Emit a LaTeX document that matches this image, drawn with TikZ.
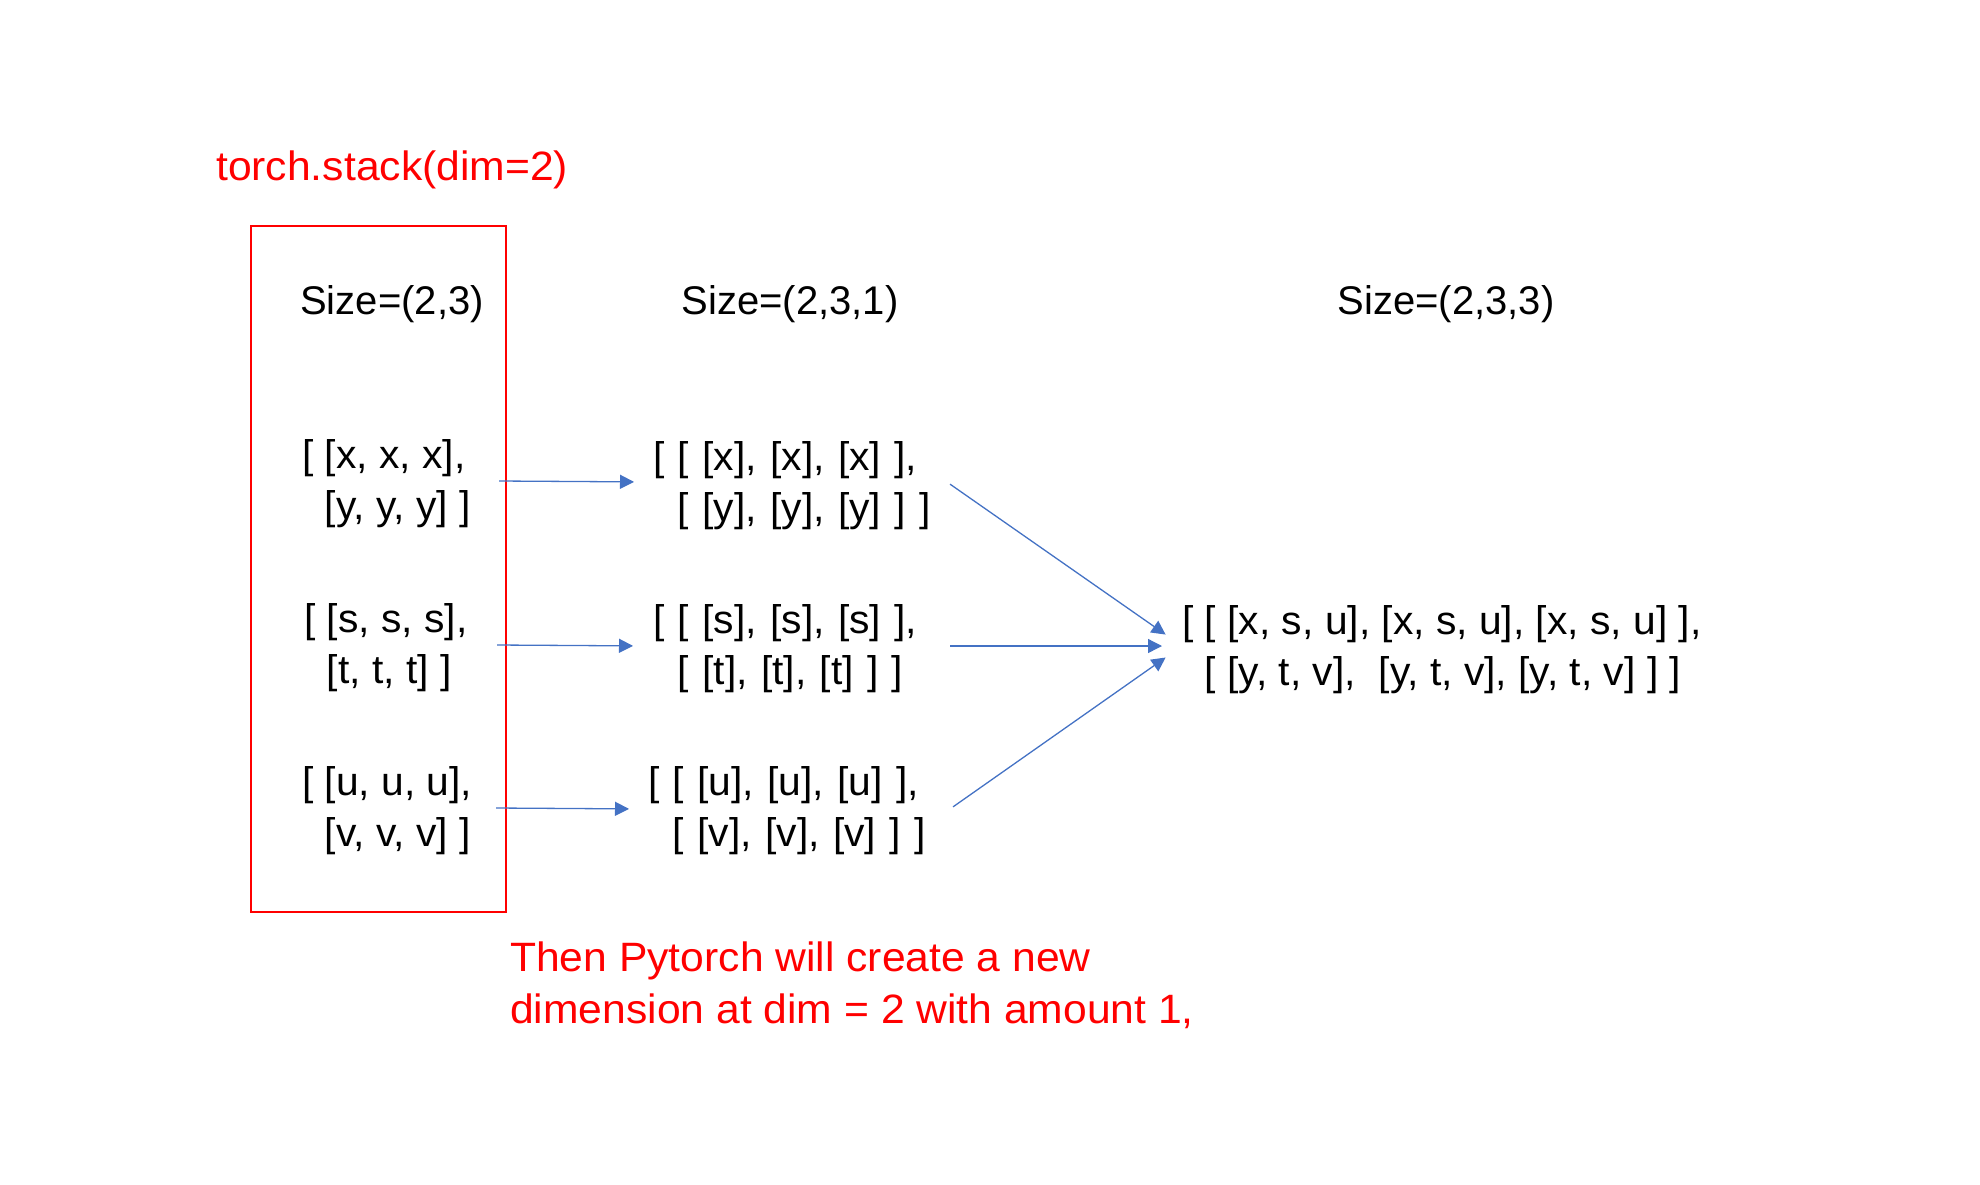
\documentclass[tikz,border=0pt]{standalone}
\usepackage{fontspec}
\setmainfont{Liberation Sans}
\newfontfamily\widefont[FakeStretch=1.02]{Liberation Sans}
\newfontfamily\notefont[FakeStretch=1.04]{Liberation Sans}
\usepackage{xcolor}
\usetikzlibrary{arrows.meta,positioning,calc}

\definecolor{flowblue}{HTML}{4472C4}
\definecolor{notered}{HTML}{FF0000}

\tikzset{
  mat/.style={anchor=west, inner sep=0pt, align=left, font=\widefont\fontsize{40}{51}\selectfont},
  sizelbl/.style={inner sep=0pt, font=\fontsize{40}{51}\selectfont},
  note/.style={anchor=west, inner sep=0pt, align=left, text=notered, font=\notefont\fontsize{41}{52}\selectfont},
  flow/.style={-{Triangle[length=14pt,width=14pt]}, line width=1.3pt, flowblue},
}

\begin{document}
\begin{tikzpicture}[x=1pt, y=-1pt]
\useasboundingbox (0,0) rectangle (1980,1184);

% Title and frame round the inputs
\node[note] (title) at (216,170) {torch.stack(dim=2)};
\node[draw=notered, line width=2pt, minimum width=255pt, minimum height=686pt, inner sep=0pt] (box) at (378.5,569) {};

% Size labels
\node[sizelbl] (s1) at (392,304) {Size=(2,3)};
\node[sizelbl] (s2) at (790,304) {Size=(2,3,1)};
\node[sizelbl] (s3) at (1446,304) {Size=(2,3,3)};

% Inputs, size (2,3)
\node[mat] (l1) at (302,484) {[ [x, x, x],\\\phantom{[ }[y, y, y] ]};
\node[mat] (l2) at (304,648) {[ [s, s, s],\\\phantom{[ }[t, t, t] ]};
\node[mat] (l3) at (302,811) {[ [u, u, u],\\\phantom{[ }[v, v, v] ]};

% After unsqueeze, size (2,3,1)
\node[mat, text width=295pt] (m1) at (653,486) {[ [ [x], [x], [x] ],\\\phantom{[ }[ [y], [y], [y] ] ]};
\node[mat, text width=295pt] (m2) at (653,649) {[ [ [s], [s], [s] ],\\\phantom{[ }[ [t], [t], [t] ] ]};
\node[mat, text width=303pt] (m3) at (648,811) {[ [ [u], [u], [u] ],\\\phantom{[ }[ [v], [v], [v] ] ]};

% Result, size (2,3,3)
\node[mat] (r) at (1182,650) {[ [ [x, s, u], [x, s, u], [x, s, u] ],\\\phantom{[ }[ [y, t, v], \ [y, t, v], [y, t, v] ] ]};

% Note below
\node[note] (msg) at (510,985) {Then Pytorch will create a new\\dimension at dim = 2 with amount 1,};

% Flow arrows
\draw[flow, shorten >=19pt] ($(box.east |- l1)+(-8,-3)$) -- ([yshift=2pt]m1.west |- l1);
\draw[flow, shorten >=20pt] ($(box.east |- l2)+(-10,-3)$) -- ([yshift=2pt]m2.west |- l2);
\draw[flow, shorten >=19pt] ($(box.east |- l3)+(-11,-3)$) -- ([yshift=2pt]m3.west |- l3);

\draw[flow, shorten <=2pt, shorten >=20pt] ([yshift=3pt]m1.east) -- ([yshift=4pt]r.west);
\draw[flow, shorten <=2pt, shorten >=20pt] ([yshift=3pt]m2.east) -- ([yshift=4pt]r.west);
\draw[flow, shorten <=2pt, shorten >=20pt] ([yshift=3pt]m3.east) -- ([yshift=4pt]r.west);

\end{tikzpicture}
\end{document}
